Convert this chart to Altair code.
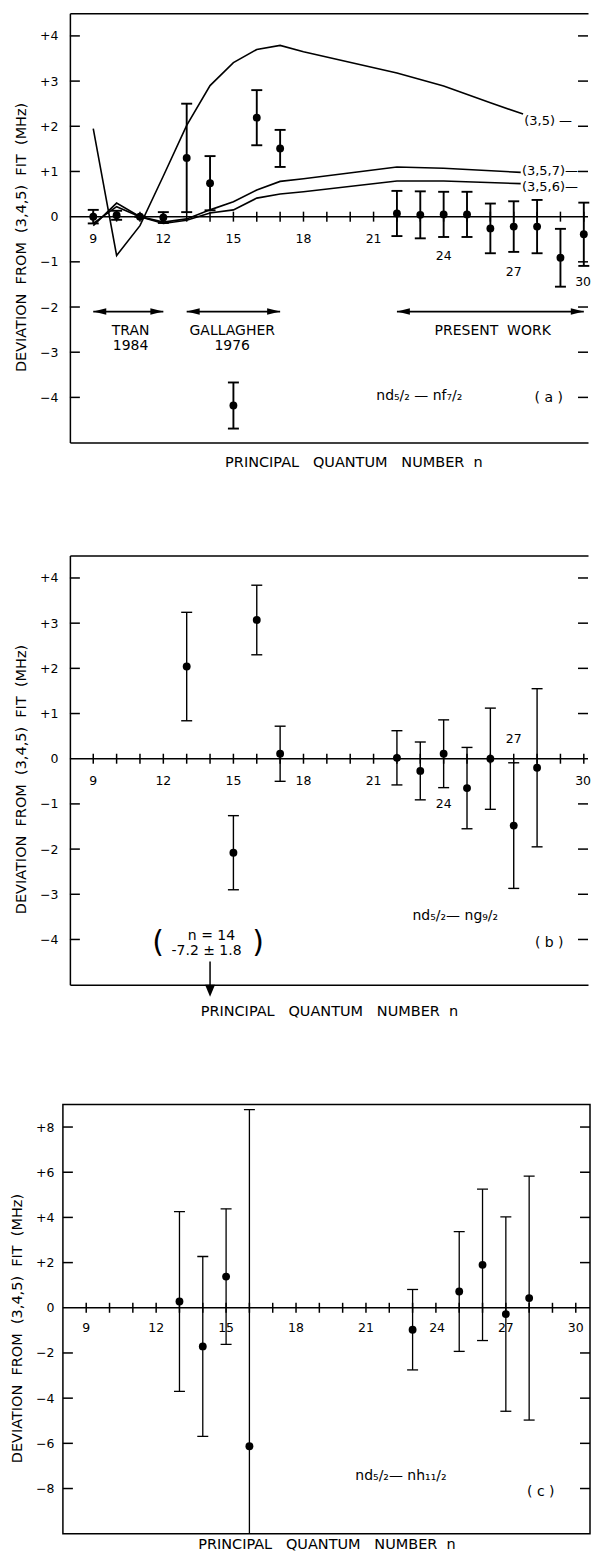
import altair as alt
import pandas as pd

FONT = "DejaVu Sans"
H = 430
NB = "\u00a0"
XTITLE = "PRINCIPAL" + NB * 3 + "QUANTUM" + NB * 3 + "NUMBER" + NB * 2 + "n"
YTITLE = "DEVIATION" + NB * 2 + "FROM" + NB * 2 + "(3,4,5)" + NB * 2 + "FIT" + NB * 2 + "(MHz)"

# ---------------- panel (a): nd5/2 - nf7/2 ----------------
a_n = [9, 10, 11, 12, 13, 14, 15, 16, 17, 22, 23, 24, 25, 26, 27, 28, 29, 30]
a_val = [0.00, 0.03, 0.00, -0.02, 1.30, 0.74, -4.18, 2.19, 1.51, 0.07, 0.04, 0.05, 0.05,
         -0.26, -0.22, -0.22, -0.91, -0.39]
a_err = [0.15, 0.10, 0.00, 0.12, 1.20, 0.60, 0.51, 0.61, 0.41, 0.50, 0.52, 0.50, 0.50,
         0.55, 0.56, 0.59, 0.64, 0.70]

fit35_n = [9, 10, 11, 12, 13, 14, 15, 16, 17, 18, 22, 24, 26, 27.4]
fit35_v = [1.95, -0.86, -0.20, 0.90, 2.02, 2.90, 3.41, 3.70, 3.79, 3.65, 3.18, 2.89, 2.52, 2.27]
fit357_n = [9, 10, 11, 12, 13, 14, 15, 16, 17, 18, 22, 24, 27.3]
fit357_v = [-0.20, 0.30, 0.00, -0.12, -0.05, 0.15, 0.33, 0.59, 0.78, 0.84, 1.10, 1.07, 0.98]
fit356_v = [-0.15, 0.22, 0.00, -0.15, -0.08, 0.08, 0.15, 0.41, 0.50, 0.55, 0.79, 0.79, 0.73]
fit_label_t = ["(3,5)" + NB + "—", "(3,5,7)—", "(3,5,6)—"]
fit_label_n = [27.45, 27.35, 27.35]
fit_label_v = [2.11, 1.00, 0.65]

grp_lo = [9, 13, 22]
grp_hi = [12, 17, 30]
grp_y = [-2.1, -2.1, -2.1]

a_note_t = ["TRAN", "1984", "GALLAGHER", "1976", "PRESENT" + NB * 2 + "WORK",
            "nd₅/₂ — nf₇/₂", "(" + NB + "a" + NB + ")"]
a_note_n = [10.6, 10.6, 14.95, 14.95, 26.1, 22.96, 28.5]
a_note_y = [-2.52, -2.87, -2.52, -2.87, -2.52, -3.97, -4.01]

# ---------------- panel (b): nd5/2 - ng9/2 ----------------
b_n = [13, 15, 16, 17, 22, 23, 24, 25, 26, 27, 28]
b_val = [2.04, -2.08, 3.07, 0.11, 0.02, -0.27, 0.11, -0.65, 0.00, -1.48, -0.20]
b_err = [1.20, 0.82, 0.77, 0.61, 0.60, 0.64, 0.75, 0.90, 1.12, 1.39, 1.75]

b_note_t = ["nd₅/₂— ng₉/₂", "(" + NB + "b" + NB + ")", "n = 14", "-7.2 ± 1.8"]
b_note_n = [24.5, 28.52, 14.06, 13.85]
b_note_y = [-3.49, -4.08, -3.93, -4.26]
paren_t = ["(", ")"]
paren_n = [11.78, 16.06]
paren_y = [-4.08, -4.08]
off_n = [14]          # n = 14 point lies off scale (-7.2 +/- 1.8)
off_from = [-4.49]
off_to = [-5.10]
off_tip = [-5.27]

# ---------------- panel (c): nd5/2 - nh11/2 ----------------
c_n = [13, 14, 15, 16, 23, 25, 26, 27, 28]
c_val = [0.28, -1.71, 1.38, -6.13, -0.97, 0.72, 1.90, -0.28, 0.43]
c_err = [3.98, 3.98, 3.00, 14.90, 1.78, 2.65, 3.35, 4.30, 5.40]

c_note_t = ["nd₅/₂— nh₁₁/₂", "(" + NB + "c" + NB + ")"]
c_note_n = [22.5, 28.5]
c_note_y = [-7.45, -8.16]

# ---------------- axis tick labels ----------------
tick_n = list(range(9, 31))
lab_txt = ["9", "12", "15", "18", "21", "24", "27", "30"]
a_lab_n = [9, 12, 15, 18, 21, 24, 27, 29.97]
a_lab_y = [-0.5, -0.5, -0.5, -0.5, -0.5, -0.88, -1.22, -1.44]
b_lab_n = [9, 12, 15, 18, 21, 24, 27, 29.97]
b_lab_y = [-0.5, -0.5, -0.5, -0.5, -0.5, -1.01, 0.43, -0.5]
c_lab_n = [9, 12, 15, 18, 21, 24.05, 27, 30]
c_lab_y = [-0.88] * 8
ab_yticks = [-4, -3, -2, -1, 0, 1, 2, 3, 4]
c_yticks = [-8, -6, -4, -2, 0, 2, 4, 6, 8]

LABEL_EXPR = "datum.value > 0 ? '+' + datum.value : (datum.value < 0 ? '−' + (-datum.value) : '0')"

RIGHT_HEAD = "M0,0L-2,-0.5L-2,0.5Z"
LEFT_HEAD = "M0,0L2,-0.5L2,0.5Z"
DOWN_HEAD = "M0,0L-1,-2.4L1,-2.4Z"


def make_panel(xdom, xoff, W, ydom, yticks, lab_n, lab_y, lpad, tpad, xtpad, xtitle_x,
               sw_err, pts, extra_layers_fn, framed_by_axes, clip_err=False):
    xs = alt.Scale(domain=xdom, range=[xoff, W], nice=False, zero=False)
    ys = alt.Scale(domain=ydom, nice=False, zero=False)
    xkw = dict(orient="bottom", title=XTITLE, ticks=False, labels=False, grid=False,
               domain=framed_by_axes, domainColor="black", domainWidth=1.5,
               titlePadding=xtpad, titleFont=FONT, titleFontSize=14.5, titleFontWeight="normal",
               titleColor="black")
    if xtitle_x is not None:
        xkw["titleX"] = xtitle_x
    xa_bottom = alt.Axis(**xkw)
    xa_top = alt.Axis(orient="top", title=None, ticks=False, labels=False, grid=False,
                      domain=True, domainColor="black", domainWidth=1.5)
    ya = alt.Axis(values=yticks, ticks=False, grid=False, labelExpr=LABEL_EXPR,
                  domain=framed_by_axes, domainColor="black", domainWidth=1.5,
                  offset=-xoff,
                  labelPadding=lpad, labelFont=FONT, labelFontSize=12.5, labelColor="black",
                  labelOverlap=False, labelFlush=False,
                  title=YTITLE, titlePadding=tpad, titleFont=FONT, titleFontSize=14.5,
                  titleFontWeight="normal", titleColor="black", titleY=224)
    default_xa = None if framed_by_axes else xa_bottom

    def X(f, axis="default"):
        return alt.X(f, type="quantitative", scale=xs,
                     axis=default_xa if axis == "default" else axis)

    def Y(f):
        return alt.Y(f, type="quantitative", scale=ys, axis=ya)

    layers = []
    zdf = pd.DataFrame({"x1": [xdom[0]], "x2": [xdom[1]], "y0": [0]})
    layers.append(alt.Chart(zdf).mark_rule(color="black", strokeWidth=1.5)
                  .encode(x=X("x1", xa_bottom), x2="x2", y=Y("y0")))
    tdf = pd.DataFrame({"n": tick_n, "y0": [0] * len(tick_n)})
    layers.append(alt.Chart(tdf).mark_tick(orient="vertical", size=10, thickness=1.5,
                                           color="black", opacity=1)
                  .encode(x=X("n", xa_top if framed_by_axes else xa_bottom), y=Y("y0")))
    ydf = pd.DataFrame({"v": [v for v in yticks if v != 0]})
    layers.append(alt.Chart(ydf).mark_rule(color="black", strokeWidth=1.5)
                  .encode(x=alt.value(xoff), x2=alt.value(xoff + 10), y=Y("v")))
    layers.append(alt.Chart(ydf).mark_rule(color="black", strokeWidth=1.5)
                  .encode(x=alt.value(W - 10), x2=alt.value(W), y=Y("v")))
    ldf = pd.DataFrame({"n": lab_n, "y": lab_y, "t": lab_txt})
    layers.append(alt.Chart(ldf).mark_text(font=FONT, fontSize=12.5, color="black",
                                           align="center", baseline="middle")
                  .encode(x=X("n"), y=Y("y"), text="t:N"))
    n, val, err = pts
    edf = pd.DataFrame({"n": n, "val": val,
                        "lo": [v - e for v, e in zip(val, err)],
                        "hi": [v + e for v, e in zip(val, err)]})
    base = alt.Chart(edf)
    layers.append(base.mark_rule(color="black", strokeWidth=sw_err, clip=clip_err)
                  .encode(x=X("n"), y=Y("lo"), y2="hi"))
    for f in ["lo", "hi"]:
        layers.append(base.mark_tick(orient="horizontal", size=11, thickness=sw_err,
                                     color="black", opacity=1, clip=clip_err)
                      .encode(x=X("n"), y=Y(f)))
    layers.append(base.mark_circle(size=62, color="black", opacity=1)
                  .encode(x=X("n"), y=Y("val")))
    layers += extra_layers_fn(X, Y)
    props = dict(width=W, height=H)
    if framed_by_axes:
        props["view"] = alt.ViewBackground(stroke="transparent")
    return alt.layer(*layers).properties(**props)


def text_layer(X, Y, t, n, y, size=13, align="center"):
    df = pd.DataFrame({"n": n, "y": y, "t": t})
    return (alt.Chart(df).mark_text(font=FONT, fontSize=size, color="black",
                                    align=align, baseline="middle")
            .encode(x=X("n"), y=Y("y"), text="t:N"))


def extras_a(X, Y):
    out = []
    rows = []
    for lab, ns, vs in [("(3,5)", fit35_n, fit35_v), ("(3,5,7)", fit357_n, fit357_v),
                        ("(3,5,6)", fit357_n, fit356_v)]:
        rows += [{"fit": lab, "n": a, "v": b} for a, b in zip(ns, vs)]
    out.append(alt.Chart(pd.DataFrame(rows)).mark_line(color="black", strokeWidth=1.6)
               .encode(x=X("n"), y=Y("v"), detail="fit:N"))
    out.append(text_layer(X, Y, fit_label_t, fit_label_n, fit_label_v, size=13, align="left"))
    gdf = pd.DataFrame({"lo": grp_lo, "hi": grp_hi, "y": grp_y})
    out.append(alt.Chart(gdf).mark_rule(color="black", strokeWidth=1.8)
               .encode(x=X("lo"), x2="hi", y=Y("y")))
    out.append(alt.Chart(gdf).mark_point(shape=LEFT_HEAD, size=169, filled=True, color="black",
                                         opacity=1, strokeWidth=0)
               .encode(x=X("lo"), y=Y("y")))
    out.append(alt.Chart(gdf).mark_point(shape=RIGHT_HEAD, size=169, filled=True, color="black",
                                         opacity=1, strokeWidth=0)
               .encode(x=X("hi"), y=Y("y")))
    out.append(text_layer(X, Y, a_note_t, a_note_n, a_note_y, size=14))
    return out


def extras_b(X, Y):
    out = [text_layer(X, Y, b_note_t, b_note_n, b_note_y, size=14),
           text_layer(X, Y, paren_t, paren_n, paren_y, size=30)]
    adf = pd.DataFrame({"n": off_n, "y1": off_from, "y2": off_to, "tip": off_tip})
    out.append(alt.Chart(adf).mark_rule(color="black", strokeWidth=1.5)
               .encode(x=X("n"), y=Y("y1"), y2="y2"))
    out.append(alt.Chart(adf).mark_point(shape=DOWN_HEAD, size=100, filled=True, color="black",
                                         opacity=1, strokeWidth=0)
               .encode(x=X("n"), y=Y("tip")))
    return out


def extras_c(X, Y):
    return [text_layer(X, Y, c_note_t, c_note_n, c_note_y, size=14)]


pa = make_panel([8, 30.18], 7, 526, [-5, 4.5], ab_yticks, a_lab_n, a_lab_y, 12, 11, 13, 291,
                1.9, (a_n, a_val, a_err), extras_a, framed_by_axes=True)
pb = make_panel([8, 30.18], 7, 526, [-5, 4.5], ab_yticks, b_lab_n, b_lab_y, 12, 11, 20, None,
                1.4, (b_n, b_val, b_err), extras_b, framed_by_axes=True)
pc = make_panel([8, 30.61], 0, 528, [-10, 9], c_yticks, c_lab_n, c_lab_y, 9, 11, 4, None,
                1.3, (c_n, c_val, c_err), extras_c, framed_by_axes=False, clip_err=True)

chart = (alt.vconcat(pa, pb, pc, spacing=84)
         .properties(padding={"left": 0, "top": 3, "right": 0, "bottom": 0})
         .configure(font=FONT)
         .configure_view(stroke="black", strokeWidth=1.5))

chart.save("out.html", embed_options={"renderer": "svg", "actions": False})
